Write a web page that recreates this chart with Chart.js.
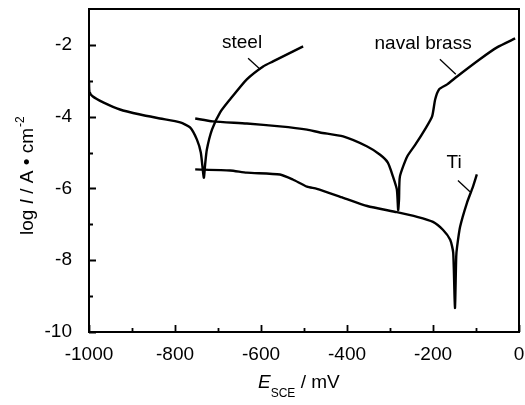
<!DOCTYPE html>
<html>
<head>
<meta charset="utf-8">
<script src="https://cdn.jsdelivr.net/npm/chart.js@4.4.0/dist/chart.umd.min.js"></script>
<style>
  html, body { margin: 0; padding: 0; background: #fff; }
  canvas { display: block; }
</style>
</head>
<body>
<canvas id="polChart" width="525" height="405"></canvas>
<script>
// courbes de polarisation (E en mV vs SCE, log I)
const steelE    = [-1000, -999, -991, -967, -928, -881, -835, -788, -765, -749, -740, -733, -730, -726, -714, -695, -672, -633, -595, -572, -502];
const steelLogI = [-3.0, -3.3, -3.44, -3.6, -3.8, -3.94, -4.05, -4.16, -4.3, -4.64, -5.0, -5.7, -5.34, -4.92, -4.36, -3.88, -3.52, -2.96, -2.6, -2.46, -2.04];

const brassE    = [-753, -712, -633, -556, -493, -463, -409, -353, -323, -305, -293, -284, -281, -279, -277, -260, -240, -219, -202, -195, -186, -167, -144, -91, -51, -9];
const brassLogI = [-4.05, -4.13, -4.19, -4.27, -4.36, -4.44, -4.55, -4.83, -5.06, -5.28, -5.67, -6.03, -6.6, -6.3, -5.67, -5.11, -4.76, -4.36, -3.99, -3.52, -3.24, -3.1, -2.88, -2.4, -2.07, -1.82];

const tiE    = [-753, -672, -633, -556, -526, -493, -470, -409, -353, -284, -237, -200, -177, -160, -153, -149, -146, -144, -137, -121, -107, -98];
const tiLogI = [-5.47, -5.5, -5.56, -5.61, -5.75, -5.95, -6.01, -6.26, -6.49, -6.66, -6.79, -6.93, -7.15, -7.43, -7.79, -9.33, -7.9, -7.63, -7.07, -6.4, -5.95, -5.61];

// étiquettes des courbes + petits traits de rappel
const curveNames  = ['steel', 'naval brass', 'Ti'];
const nameE       = [-644, -223, -151];
const nameLogI    = [-1.95, -1.98, -5.28];
const leaderFromE = [-630, -184, -142];
const leaderFromI = [-2.37, -2.40, -5.78];
const leaderToE   = [-602, -147, -114];
const leaderToI   = [-2.68, -2.82, -6.09];

const xTicksMajor = [-1000, -800, -600, -400, -200, 0];
const yTicksMajor = [-10, -8, -6, -4, -2];

const FONT = "'Liberation Sans', Arial, sans-serif";

function toPoints(xs, ys) {
  return xs.map((x, i) => ({ x: x, y: ys[i] }));
}

function curve(label, xs, ys) {
  return {
    label: label,
    data: toPoints(xs, ys),
    showLine: true,
    borderColor: '#000',
    borderWidth: 2.4,
    pointRadius: 0,
    tension: 0.2,
    fill: false
  };
}

// cadre, graduations intérieures, noms des courbes, titres des axes
const decorPlugin = {
  id: 'decor',
  afterDatasetsDraw(chart) {
    const ctx = chart.ctx;
    const xs = chart.scales.x, ys = chart.scales.y;
    const a = chart.chartArea;
    ctx.save();
    ctx.strokeStyle = '#000';
    ctx.lineWidth = 2;
    ctx.strokeRect(a.left, a.top, a.right - a.left, a.bottom - a.top);

    ctx.lineWidth = 1.8;
    ctx.beginPath();
    for (let v = -1000; v <= 0; v += 100) {
      const px = Math.round(xs.getPixelForValue(v)) + 0.5;
      const len = xTicksMajor.includes(v) ? 7 : 4;
      ctx.moveTo(px, a.bottom);
      ctx.lineTo(px, a.bottom - len);
    }
    for (let v = -10; v <= -2; v += 1) {
      const py = Math.round(ys.getPixelForValue(v)) + 0.5;
      const len = yTicksMajor.includes(v) ? 7 : 4;
      ctx.moveTo(a.left, py);
      ctx.lineTo(a.left + len, py);
    }
    ctx.stroke();

    // noms des courbes
    ctx.fillStyle = '#000';
    ctx.font = '19px ' + FONT;
    ctx.textAlign = 'center';
    ctx.textBaseline = 'middle';
    ctx.lineWidth = 1.3;
    curveNames.forEach((name, i) => {
      ctx.fillText(name, xs.getPixelForValue(nameE[i]), ys.getPixelForValue(nameLogI[i]));
      ctx.beginPath();
      ctx.moveTo(xs.getPixelForValue(leaderFromE[i]), ys.getPixelForValue(leaderFromI[i]));
      ctx.lineTo(xs.getPixelForValue(leaderToE[i]), ys.getPixelForValue(leaderToI[i]));
      ctx.stroke();
    });

    // titre axe x : E_SCE / mV
    ctx.textAlign = 'left';
    ctx.textBaseline = 'alphabetic';
    let x0 = 258;
    ctx.font = 'italic 19px ' + FONT;
    ctx.fillText('E', x0, 388);
    x0 += ctx.measureText('E').width;
    ctx.font = '12px ' + FONT;
    ctx.fillText('SCE', x0, 397);
    x0 += ctx.measureText('SCE').width;
    ctx.font = '19px ' + FONT;
    ctx.fillText(' / mV', x0, 388);

    // titre axe y : log I / A • cm-2
    ctx.translate(33, 235);
    ctx.rotate(-Math.PI / 2);
    let t = 0;
    ctx.font = '19px ' + FONT;
    ctx.fillText('log ', t, 0);
    t += ctx.measureText('log ').width;
    ctx.font = 'italic 19px ' + FONT;
    ctx.fillText('I', t, 0);
    t += ctx.measureText('I').width;
    ctx.font = '19px ' + FONT;
    ctx.fillText(' / A \u2022 cm', t, 0);
    t += ctx.measureText(' / A \u2022 cm').width;
    ctx.font = '12px ' + FONT;
    ctx.fillText('-2', t + 1, -9);
    ctx.restore();
  }
};

const ctx = document.getElementById('polChart').getContext('2d');
const polChart = new Chart(ctx, {
  type: 'scatter',
  data: {
    datasets: [
      curve('steel', steelE, steelLogI),
      curve('naval brass', brassE, brassLogI),
      curve('Ti', tiE, tiLogI)
    ]
  },
  options: {
    responsive: false,
    animation: false,
    layout: { padding: { top: 9, right: 6, left: 0, bottom: 0 } },
    plugins: {
      legend: { display: false },
      tooltip: { enabled: false }
    },
    scales: {
      x: {
        type: 'linear',
        min: -1000,
        max: 0,
        grid: { display: false },
        border: { display: false },
        ticks: {
          stepSize: 100,
          autoSkip: false,
          maxRotation: 0,
          padding: 3,
          color: '#000',
          font: { family: FONT, size: 19 },
          callback: (v) => xTicksMajor.includes(v) ? String(v) : ''
        },
        afterFit: (s) => { s.height = 73; s.paddingLeft = 0; s.paddingRight = 0; }
      },
      y: {
        type: 'linear',
        min: -10,
        max: -1,
        grid: { display: false },
        border: { display: false },
        ticks: {
          stepSize: 1,
          autoSkip: false,
          padding: 9,
          color: '#000',
          font: { family: FONT, size: 19 },
          callback: (v) => yTicksMajor.includes(v) ? String(v) : ''
        },
        afterFit: (s) => { s.width = 89; s.paddingTop = 0; s.paddingBottom = 0; }
      }
    }
  },
  plugins: [decorPlugin]
});
</script>
</body>
</html>
